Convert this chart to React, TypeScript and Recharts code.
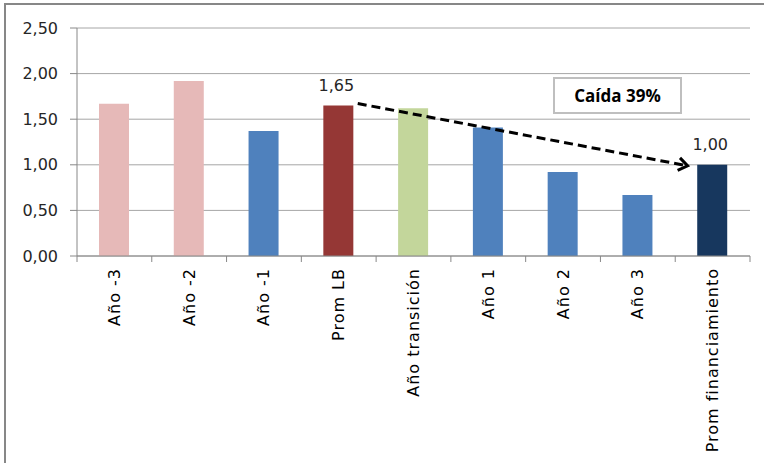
import { BarChart, Bar, XAxis, YAxis, CartesianGrid, Cell, LabelList, ReferenceLine } from 'recharts';

const categories = [
  'Año -3',
  'Año -2',
  'Año -1',
  'Prom LB',
  'Año transición',
  'Año 1',
  'Año 2',
  'Año 3',
  'Prom financiamiento',
];
const values = [1.67, 1.92, 1.37, 1.65, 1.62, 1.41, 0.92, 0.67, 1.0];
const barColors = ['#E6B9B8', '#E6B9B8', '#4F81BD', '#953735', '#C3D69B', '#4F81BD', '#4F81BD', '#4F81BD', '#17375E'];
const labeledBars = ['Prom LB', 'Prom financiamiento'];
const yTicks = [0, 0.5, 1, 1.5, 2, 2.5];

const data = categories.map((name, i) => ({ name, value: values[i] }));

const fmt = (v: number) => v.toFixed(2).replace('.', ',');

const XTick = (props: any) => {
  const { x, y, payload, index, visibleTicksCount } = props;
  const half = payload && payload.offset ? payload.offset : 37.4;
  const last = index === (visibleTicksCount ?? categories.length) - 1;
  return (
    <g>
      <line x1={x - half} y1={y} x2={x - half} y2={y + 6} stroke="#888" />
      {last && <line x1={x + half} y1={y} x2={x + half} y2={y + 6} stroke="#888" />}
      <text
        transform={`translate(${x},${y + 12}) rotate(-90)`}
        textAnchor="end"
        dominantBaseline="central"
        fontSize={16}
        letterSpacing={1}
        fill="#000"
      >
        {payload.value}
      </text>
    </g>
  );
};

const ValueLabel = (props: any) => {
  const { x, y, width, value, index } = props;
  if (!labeledBars.includes(categories[index])) return null;
  return (
    <text x={x + width / 2 - 2} y={y - 15} textAnchor="middle" fontSize={16} fill="#262626">
      {fmt(value)}
    </text>
  );
};

const DashedArrow = (p: any) => {
  const x1 = p.x1 + 19;
  const y1 = p.y1 - 2;
  const x2 = p.x2 - 25;
  const y2 = p.y2 + 1;
  const ang = Math.atan2(y2 - y1, x2 - x1);
  const len = 11;
  const spread = 0.62;
  const ax = x2 - len * Math.cos(ang - spread);
  const ay = y2 - len * Math.sin(ang - spread);
  const bx = x2 - len * Math.cos(ang + spread);
  const by = y2 - len * Math.sin(ang + spread);
  return (
    <g>
      <line x1={x1} y1={y1} x2={x2} y2={y2} stroke="#000" strokeWidth={3} strokeDasharray="9 5" />
      <polyline points={`${ax},${ay} ${x2},${y2} ${bx},${by}`} fill="none" stroke="#000" strokeWidth={3} />
    </g>
  );
};

export default function App() {
  return (
    <div style={{ position: 'absolute', left: 0, top: 0, width: 764, height: 463, overflow: 'hidden', background: '#fff', fontFamily: 'DejaVu Sans' }}>
      <div style={{ position: 'absolute', left: 4, top: 3, width: 820, height: 520, border: '2px solid #878787' }} />
      <BarChart
        width={764}
        height={463}
        data={data}
        margin={{ top: 28, right: 14, left: 0, bottom: 0 }}
        style={{ position: 'absolute', left: 0, top: 0 }}
      >
        <CartesianGrid vertical={false} stroke="#A6A6A6" />
        <XAxis
          dataKey="name"
          height={207}
          interval={0}
          tickLine={false}
          tickSize={0}
          tickMargin={0}
          axisLine={{ stroke: '#888' }}
          tick={<XTick />}
        />
        <YAxis
          width={77}
          domain={[0, 2.5]}
          ticks={yTicks}
          tickFormatter={fmt}
          tickSize={7}
          tickMargin={12}
          axisLine={{ stroke: '#888' }}
          tickLine={{ stroke: '#888' }}
          tick={{ fontSize: 16, fill: '#262626', fontFamily: 'DejaVu Sans' }}
        />
        <Bar dataKey="value" barSize={30} isAnimationActive={false}>
          {data.map((d, i) => (
            <Cell key={d.name} fill={barColors[i]} />
          ))}
          <LabelList dataKey="value" content={<ValueLabel />} />
        </Bar>
        <ReferenceLine
          segment={[
            { x: 'Prom LB', y: 1.65 },
            { x: 'Prom financiamiento', y: 1.0 },
          ]}
          ifOverflow="visible"
          shape={<DashedArrow />}
        />
      </BarChart>
      <div
        style={{
          position: 'absolute',
          left: 553,
          top: 77,
          width: 125,
          height: 33,
          border: '2px solid #BFBFBF',
          display: 'flex',
          alignItems: 'center',
          justifyContent: 'center',
          fontFamily: 'Open Sans',
          fontWeight: 700,
          fontSize: 17,
          color: '#000',
          background: '#fff',
        }}
      >
        Caída 39%
      </div>
    </div>
  );
}
